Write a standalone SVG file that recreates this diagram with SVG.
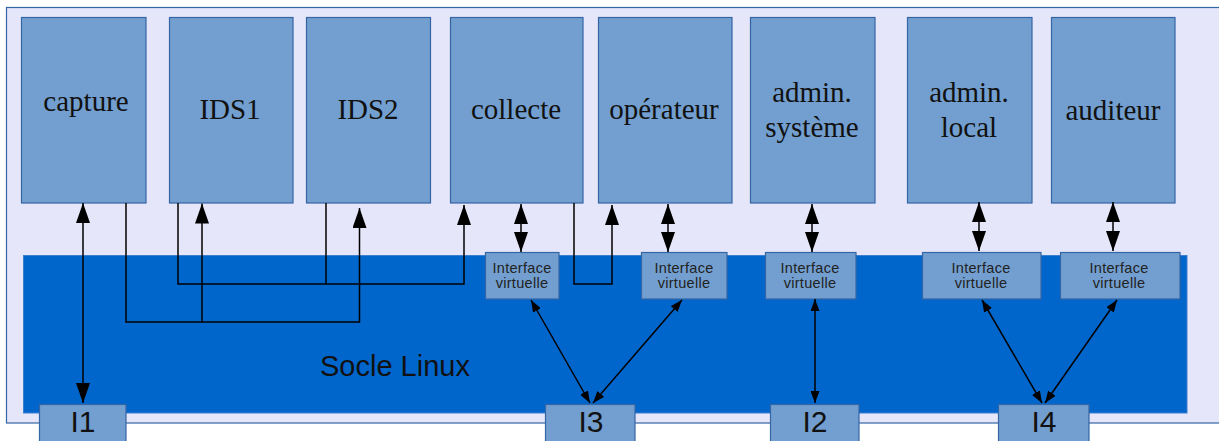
<svg xmlns="http://www.w3.org/2000/svg" width="1219" height="441" viewBox="0 0 1219 441">
<style>
.bg{fill:#e6e6fa;stroke:#3465a4;stroke-width:1.2}
.box{fill:#729fcf;stroke:#3465a4;stroke-width:1.2}
.socle{fill:#0066cc;stroke:#3d7fcf;stroke-width:1}
.lbl{font-family:"Liberation Serif","Times New Roman",serif;font-size:29px;fill:#111;text-anchor:middle}
.iv{font-family:"Liberation Sans",Arial,sans-serif;font-size:14.5px;letter-spacing:0.3px;fill:#222;text-anchor:middle}
.io{font-family:"Liberation Sans",Arial,sans-serif;font-size:30px;fill:#111;text-anchor:middle}
.soc{font-family:"Liberation Sans",Arial,sans-serif;font-size:29px;fill:#111}
.ln{fill:none;stroke:#000;stroke-width:1.5}
</style>
<defs>
<marker id="big" markerUnits="userSpaceOnUse" markerWidth="20" markerHeight="14" refX="20" refY="7" orient="auto-start-reverse" viewBox="0 0 20 14"><path d="M0,0 L20,7 L0,14 z" fill="#000"/></marker>
<marker id="sm" markerUnits="userSpaceOnUse" markerWidth="12" markerHeight="9" refX="12" refY="4.5" orient="auto-start-reverse" viewBox="0 0 12 9"><path d="M0,0 L12,4.5 L0,9 z" fill="#000"/></marker>
</defs>
<rect class="bg" x="6.5" y="7.5" width="1220" height="415.5"/>
<g id="socle">
<rect class="socle" x="23.5" y="255.5" width="1163.5" height="157.5"/>
<text class="soc" x="320" y="376">Socle Linux</text>
</g>
<g id="capture"><rect class="box" x="21.5" y="17.5" width="124.5" height="185.5"/><text class="lbl" x="86" y="111">capture</text></g>
<g id="ids1"><rect class="box" x="169.5" y="17.5" width="123.5" height="185.5"/><text class="lbl" x="230" y="119">IDS1</text></g>
<g id="ids2"><rect class="box" x="306.5" y="17.5" width="124" height="185.5"/><text class="lbl" x="368" y="119">IDS2</text></g>
<g id="collecte"><rect class="box" x="450.5" y="17.5" width="132.5" height="185.5"/><text class="lbl" x="516" y="119">collecte</text></g>
<g id="operateur"><rect class="box" x="598.5" y="17.5" width="133.5" height="185.5"/><text class="lbl" x="664" y="119">opérateur</text></g>
<g id="adminsys"><rect class="box" x="750.5" y="17.5" width="124.5" height="185.5"/><text class="lbl" x="812" y="102">admin.</text><text class="lbl" x="812" y="137">système</text></g>
<g id="adminlocal"><rect class="box" x="907.5" y="17.5" width="124.5" height="185.5"/><text class="lbl" x="969" y="102">admin.</text><text class="lbl" x="969" y="137">local</text></g>
<g id="auditeur"><rect class="box" x="1051.5" y="17.5" width="123.5" height="185.5"/><text class="lbl" x="1113" y="120">auditeur</text></g>
<g id="iv1"><rect class="box" x="485.5" y="252.5" width="73.5" height="46.5"/><text class="iv" x="522" y="273">Interface</text><text class="iv" x="522" y="288">virtuelle</text></g>
<g id="iv2"><rect class="box" x="641.5" y="252.5" width="85.5" height="46.5"/><text class="iv" x="684" y="273">Interface</text><text class="iv" x="684" y="288">virtuelle</text></g>
<g id="iv3"><rect class="box" x="765.5" y="252.5" width="90.5" height="46.5"/><text class="iv" x="810" y="273">Interface</text><text class="iv" x="810" y="288">virtuelle</text></g>
<g id="iv4"><rect class="box" x="922.5" y="252.5" width="118.5" height="46.5"/><text class="iv" x="981" y="273">Interface</text><text class="iv" x="981" y="288">virtuelle</text></g>
<g id="iv5"><rect class="box" x="1060.5" y="252.5" width="119.5" height="46.5"/><text class="iv" x="1119" y="273">Interface</text><text class="iv" x="1119" y="288">virtuelle</text></g>
<g id="i1"><rect class="box" x="39.5" y="404.5" width="86.5" height="40"/><text class="io" x="83" y="432">I1</text></g>
<g id="i3"><rect class="box" x="545.5" y="404.5" width="89.5" height="40"/><text class="io" x="591" y="432">I3</text></g>
<g id="i2"><rect class="box" x="770.5" y="404.5" width="88.5" height="40"/><text class="io" x="815" y="432">I2</text></g>
<g id="i4"><rect class="box" x="998.5" y="404.5" width="90.5" height="40"/><text class="io" x="1044" y="432">I4</text></g>
<g id="connectors">
<line class="ln" x1="83" y1="203" x2="83" y2="403" marker-start="url(#big)" marker-end="url(#big)"/>
<path class="ln" d="M126,203 V322 H359.5 V208" marker-end="url(#big)"/>
<path class="ln" d="M202,322 V203.5" marker-end="url(#big)"/>
<path class="ln" d="M178,203 V284 H464 V205" marker-end="url(#big)"/>
<path class="ln" d="M326,203 V284"/>
<path class="ln" d="M574,203 V284 H612 V205" marker-end="url(#big)"/>
<line class="ln" x1="521" y1="204" x2="521" y2="252" marker-start="url(#big)" marker-end="url(#big)"/>
<line class="ln" x1="668" y1="204" x2="668" y2="252" marker-start="url(#big)" marker-end="url(#big)"/>
<line class="ln" x1="812" y1="204" x2="812" y2="252" marker-start="url(#big)" marker-end="url(#big)"/>
<line class="ln" x1="979" y1="202" x2="979" y2="251" marker-start="url(#big)" marker-end="url(#big)"/>
<line class="ln" x1="1113" y1="202" x2="1113" y2="251" marker-start="url(#big)" marker-end="url(#big)"/>
<line class="ln" x1="531" y1="300" x2="590" y2="403" marker-start="url(#sm)" marker-end="url(#sm)"/>
<line class="ln" x1="682" y1="300" x2="593" y2="403" marker-start="url(#sm)" marker-end="url(#sm)"/>
<line class="ln" x1="815" y1="299" x2="815" y2="403" marker-start="url(#sm)" marker-end="url(#sm)"/>
<line class="ln" x1="982" y1="300" x2="1042" y2="403" marker-start="url(#sm)" marker-end="url(#sm)"/>
<line class="ln" x1="1117" y1="300" x2="1045" y2="403" marker-start="url(#sm)" marker-end="url(#sm)"/>
</g>
</svg>
